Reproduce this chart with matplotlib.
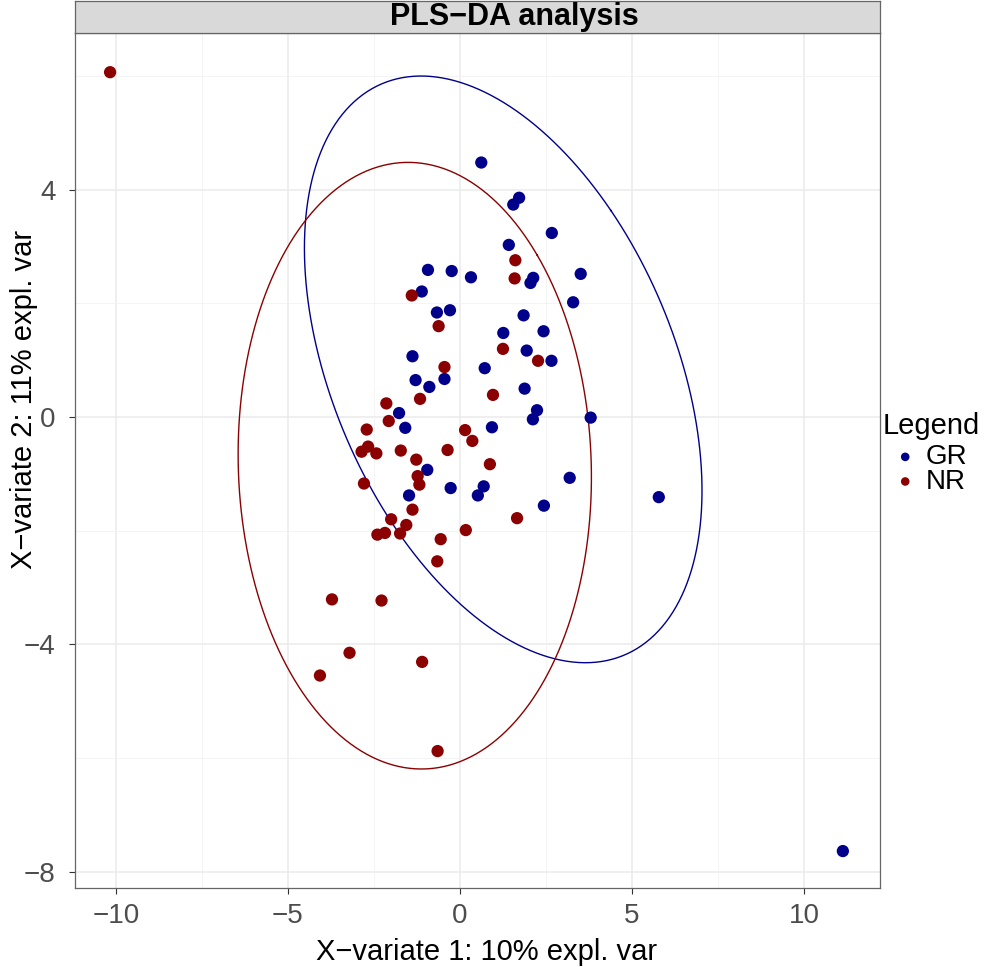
import numpy as np
import matplotlib
matplotlib.use("Agg")
import matplotlib.pyplot as plt

plt.rcParams['font.family'] = ['Liberation Sans', 'DejaVu Sans']

gr_x = [0.62, 1.72, 1.55, 2.67, 1.42, -0.93, -0.24, 0.32, 2.13, 2.05, 3.51, -1.11, 3.29,
        -0.67, -0.29, 1.85, 1.26, 2.43, 1.94, 2.66, -1.38, 0.72, -1.29, -0.45, -0.89, 1.88,
        2.24, 2.12, 3.80, -1.77, -1.59, 0.93, -0.95, -0.27, 0.69, 0.52, -1.48, 3.19, 2.44,
        5.78, 11.13]
gr_y = [4.48, 3.86, 3.74, 3.24, 3.03, 2.59, 2.57, 2.46, 2.45, 2.36, 2.52, 2.21, 2.02,
        1.84, 1.88, 1.79, 1.48, 1.51, 1.17, 0.99, 1.07, 0.86, 0.65, 0.67, 0.53, 0.50,
        0.12, -0.04, -0.01, 0.07, -0.19, -0.18, -0.93, -1.25, -1.22, -1.38, -1.38, -1.07, -1.56,
        -1.41, -7.64]
nr_x = [1.61, 1.59, -1.40, -0.62, 1.25, 2.27, -0.45, 0.96, -1.16, -2.14, -2.07, -2.71, 0.15,
        0.36, -2.67, -2.86, -2.43, -1.72, -0.36, -1.27, 0.87, -1.23, -1.18, -2.79, -1.38,
        -2.00, -1.56, 1.66, -2.40, -2.18, -1.74, -0.56, 0.17, -0.66, -3.72, -2.28, -3.21,
        -4.07, -1.10, -0.65, -10.17]
nr_y = [2.76, 2.44, 2.14, 1.60, 1.20, 0.99, 0.88, 0.39, 0.32, 0.24, -0.07, -0.22, -0.23,
        -0.42, -0.52, -0.61, -0.64, -0.59, -0.58, -0.75, -0.83, -1.04, -1.19, -1.17, -1.63,
        -1.80, -1.90, -1.78, -2.07, -2.04, -2.05, -2.15, -1.99, -2.54, -3.21, -3.23, -4.15,
        -4.55, -4.31, -5.88, 6.07]

groups = ["GR", "NR"]
colors = ["#00008B", "#8B0000"]
x_ticks = [-10, -5, 0, 5, 10]
y_ticks = [-8, -4, 0, 4]
title = "PLS\u2212DA analysis"
xlabel = "X\u2212variate 1: 10% expl. var"
ylabel = "X\u2212variate 2: 11% expl. var"
legend_title = "Legend"
ellipse_level = 0.95


def conf_ellipse(x, y, level, n=200):
    x = np.asarray(x); y = np.asarray(y)
    cov = np.cov(x, y)
    t = np.sqrt(-2 * np.log(1 - level))
    sx, sy = np.sqrt(cov[0, 0]), np.sqrt(cov[1, 1])
    r = cov[0, 1] / (sx * sy)
    d = np.arccos(r)
    a = np.linspace(0, 2 * np.pi, n)
    ex = t * sx * np.cos(a + d / 2) + x.mean()
    ey = t * sy * np.cos(a - d / 2) + y.mean()
    return ex, ey


W, H = 990, 967
fig = plt.figure(figsize=(W / 100, H / 100), dpi=100)
L, R, B, T = 75 / W, 880 / W, (H - 888) / H, (H - 33) / H
ax = fig.add_axes([L, B, R - L, T - B])
sax = fig.add_axes([L, T, R - L, 32 / H])

data = [(gr_x, gr_y), (nr_x, nr_y)]
for (xs, ys), g, c in zip(data, groups, colors):
    ax.scatter(xs, ys, s=78, color=c, edgecolors='none', zorder=3, label=g)
    ex, ey = conf_ellipse(xs, ys, ellipse_level)
    ax.plot(ex, ey, color=c, lw=1.0, zorder=2)

ax.set_xlim(-11.19, 12.21)
ax.set_ylim(-8.29, 6.76)
ax.set_xticks(x_ticks)
ax.set_xticklabels([str(v).replace('-', '\u2212') for v in x_ticks])
ax.set_yticks(y_ticks)
ax.set_yticklabels([str(v).replace('-', '\u2212') for v in y_ticks])
ax.set_xticks([-7.5, -2.5, 2.5, 7.5], minor=True)
ax.set_yticks([-6, -2, 2, 6], minor=True)
ax.grid(True, which='major', color='#EBEBEB', lw=1.1, zorder=0)
ax.grid(True, which='minor', color='#F2F2F2', lw=0.6, zorder=0)
ax.set_axisbelow(True)
ax.tick_params(which='major', length=4, width=0.8, color='#333333', labelsize=20,
               labelcolor='#4D4D4D')
ax.tick_params(axis='x', which='major', pad=7)
ax.tick_params(axis='y', which='major', pad=10)
ax.tick_params(which='minor', length=0)
for sp in ax.spines.values():
    sp.set_color('#666666'); sp.set_linewidth(0.9)
ax.set_xlabel(xlabel, fontsize=21)
ax.set_ylabel(ylabel, fontsize=21)
ax.xaxis.set_label_coords((487 - 75) / 805, (888 - 938) / 855)
ax.yaxis.set_label_coords((38 - 75) / 805, (888 - 399) / 855)

sax.set_facecolor('#D9D9D9')
sax.set_xticks([]); sax.set_yticks([])
for sp in sax.spines.values():
    sp.set_color('#666666'); sp.set_linewidth(0.9)
sax.text((514 - 75) / 805, (33 - 25) / 32, title, ha='center', va='baseline', fontsize=22,
         fontweight='bold', transform=sax.transAxes)

leg = fig.legend(*ax.get_legend_handles_labels(), title=legend_title, loc='upper left',
                 bbox_to_anchor=(883 / W, 1 - 412 / H), frameon=False, fontsize=20,
                 title_fontsize=21, handletextpad=-0.05, labelspacing=-0.05,
                 markerscale=0.7, borderaxespad=0, borderpad=0, handlelength=1.6)
leg._legend_box.align = "left"
leg._legend_box.sep = 3

fig.savefig("out.png", dpi=100)
